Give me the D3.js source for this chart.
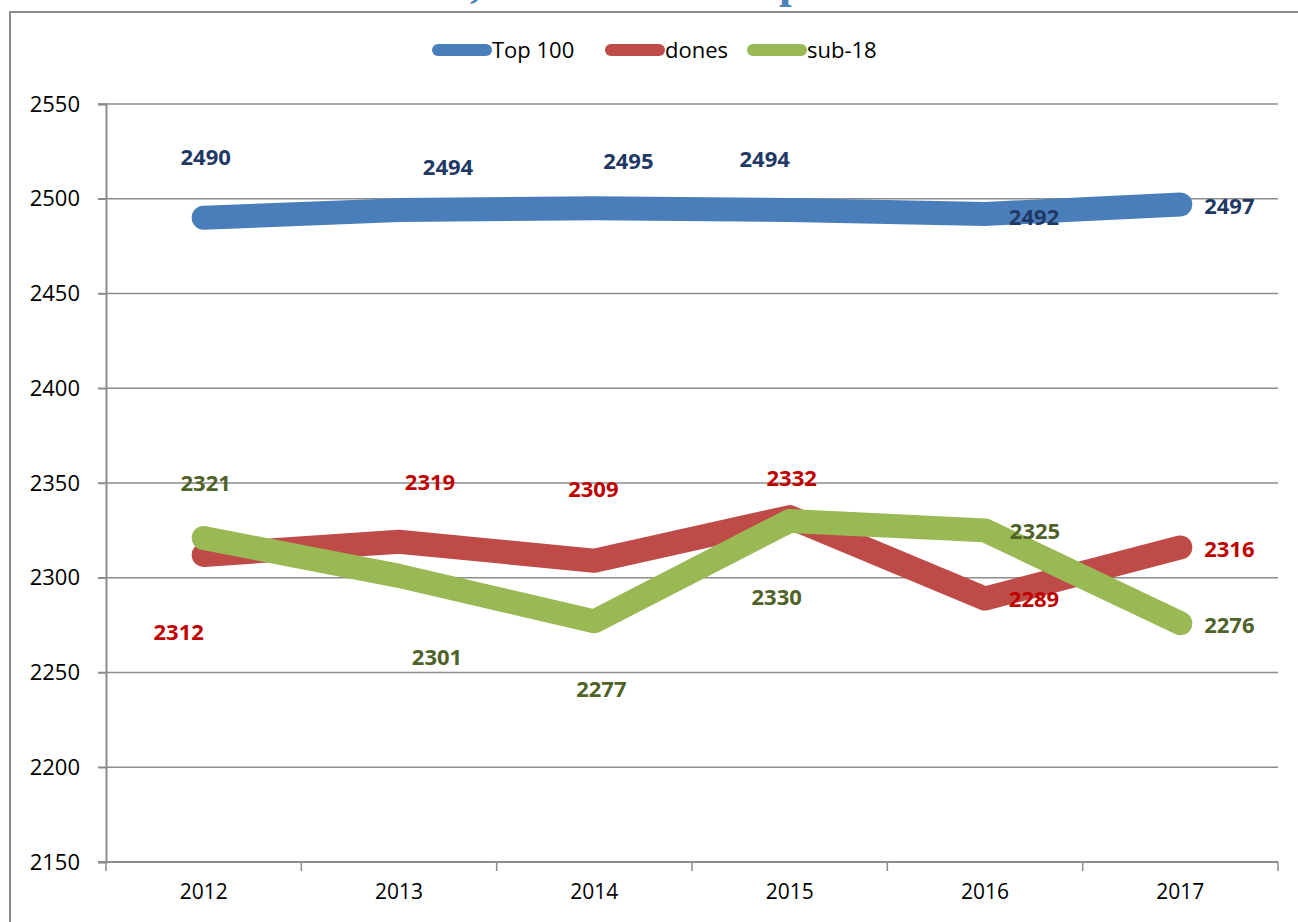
<!DOCTYPE html>
<html>
<head>
<meta charset="utf-8">
<script src="https://cdn.jsdelivr.net/npm/d3@7"></script>
<style>
  body { margin: 0; background: #fff; }
  svg { display: block; }
</style>
</head>
<body>
<svg width="1298" height="922"></svg>
<script>
// chart values
var years = ["2012", "2013", "2014", "2015", "2016", "2017"];
var top100 = [2490, 2494, 2495, 2494, 2492, 2497];
var dones = [2312, 2319, 2309, 2332, 2289, 2316];
var sub18 = [2321, 2301, 2277, 2330, 2325, 2276];
var yTicks = [2150, 2200, 2250, 2300, 2350, 2400, 2450, 2500, 2550];
var seriesNames = ["Top 100", "dones", "sub-18"];
var title = "Evolució de l'ELO dels 100 millors, dones i sub-18 per curs";

// label offsets (px) from each point, as the labels sit in the picture
var offTop = [[2, -60], [49, -43], [34, -47], [-25, -51], [49, 3], [49, 2]];
var offDones = [[-25, 77], [31, -59], [-1, -71], [2, -39], [49, 1], [49, 2]];
var offSub = [[2, -55], [38, 81], [7, 68], [-13, 76], [50, 1], [49, 2]];

var series = [
    { name: seriesNames[0], values: top100, color: "#4a7ebb", text: "#1f3864", off: offTop },
    { name: seriesNames[1], values: dones, color: "#be4b48", text: "#c00000", off: offDones },
    { name: seriesNames[2], values: sub18, color: "#98b954", text: "#4f6228", off: offSub }
];

var svg = d3.select("svg");
var pLeft = 106, pRight = 1278, pTop = 104, pBottom = 862;

// title cut off above the frame: only the comma and the "p" tail show
var tt = svg.append("text")
    .attr("x", 100).attr("y", -3)
    .attr("font-family", "Liberation Serif").attr("font-weight", "bold")
    .attr("font-size", 30).attr("fill", "#4f81bd")
    .text(title);
var iComma = title.indexOf(","), iP = title.indexOf(" per") + 1;
var n = tt.node();
var cX = n.getStartPositionOfChar(iComma).x, pX = n.getStartPositionOfChar(iP).x;
tt.attr("font-size", 30 * (779 - 470) / (pX - cX));
cX = n.getStartPositionOfChar(iComma).x;
tt.attr("x", 100 + 470 - cX);

// outer frame
svg.append("path")
    .attr("d", "M10,922 V12 H1298")
    .attr("fill", "none").attr("stroke", "#8c8c8c").attr("stroke-width", 2);

var x = d3.scaleBand().domain(years).range([pLeft, pRight]);
var y = d3.scaleLinear().domain([2150, 2550]).range([pBottom, pTop]);

// gridlines
svg.append("g").selectAll("line")
    .data(yTicks.slice(1)).enter().append("line")
    .attr("x1", pLeft - 8).attr("x2", pRight)
    .attr("y1", d => y(d)).attr("y2", d => y(d))
    .attr("stroke", "#8c8c8c").attr("stroke-width", 1.5);

// y axis
var yAxis = svg.append("g")
    .attr("transform", "translate(" + pLeft + ",0)")
    .call(d3.axisLeft(y).tickValues(yTicks).tickFormat(d3.format("d"))
        .tickSize(8).tickPadding(18));
yAxis.select(".domain").attr("stroke", "#8c8c8c").attr("stroke-width", 2);
yAxis.selectAll(".tick line").attr("stroke", "#8c8c8c").attr("stroke-width", 1.5);
yAxis.selectAll("text")
    .attr("x", -26).attr("text-anchor", "end")
    .attr("font-family", "Open Sans").attr("font-size", 22).attr("fill", "#000");

// x axis (ticks on band edges)
var xAxis = svg.append("g")
    .attr("transform", "translate(0," + pBottom + ")")
    .call(d3.axisBottom(x).tickSize(0).tickPadding(22));
xAxis.select(".domain").remove();
xAxis.selectAll("text")
    .attr("font-family", "Open Sans").attr("font-size", 21).attr("fill", "#000");
svg.append("line")
    .attr("x1", pLeft - 8).attr("x2", pRight)
    .attr("y1", pBottom).attr("y2", pBottom)
    .attr("stroke", "#8c8c8c").attr("stroke-width", 2);
svg.append("g").selectAll("line")
    .data(years.concat(["end"])).enter().append("line")
    .attr("x1", (d, i) => pLeft + i * x.step()).attr("x2", (d, i) => pLeft + i * x.step())
    .attr("y1", pBottom).attr("y2", pBottom + 9)
    .attr("stroke", "#8c8c8c").attr("stroke-width", 1.5);

var cx = (d, i) => x(years[i]) + x.bandwidth() / 2;

var lineMaker = d3.line()
    .x((d, i) => cx(d, i))
    .y(d => y(d));

// lines
series.forEach(function(s) {
    svg.append("path")
        .attr("d", lineMaker(s.values))
        .attr("fill", "none")
        .attr("stroke", s.color)
        .attr("stroke-width", 24)
        .attr("stroke-linecap", "round")
        .attr("stroke-linejoin", "round");
});

// data labels
series.forEach(function(s) {
    svg.append("g").selectAll("text")
        .data(s.values).enter().append("text")
        .attr("x", (d, i) => cx(d, i) + s.off[i][0])
        .attr("y", (d, i) => y(d) + s.off[i][1])
        .attr("dy", "0.35em")
        .attr("text-anchor", "middle")
        .attr("font-family", "Open Sans").attr("font-weight", "bold")
        .attr("font-size", 22).attr("fill", s.text)
        .text(d => d);
});

// legend
var legendX = [432, 605, 747];
var leg = svg.append("g").selectAll("g")
    .data(series).enter().append("g")
    .attr("transform", (d, i) => "translate(" + legendX[i] + ",50)");
leg.append("line")
    .attr("x1", 6).attr("x2", 54).attr("y1", 0).attr("y2", 0)
    .attr("stroke", d => d.color).attr("stroke-width", 12)
    .attr("stroke-linecap", "round");
leg.append("text")
    .attr("x", 60).attr("y", 0).attr("dy", "0.35em")
    .attr("font-family", "Open Sans").attr("font-size", 22).attr("fill", "#000")
    .text(d => d.name);
</script>
</body>
</html>
